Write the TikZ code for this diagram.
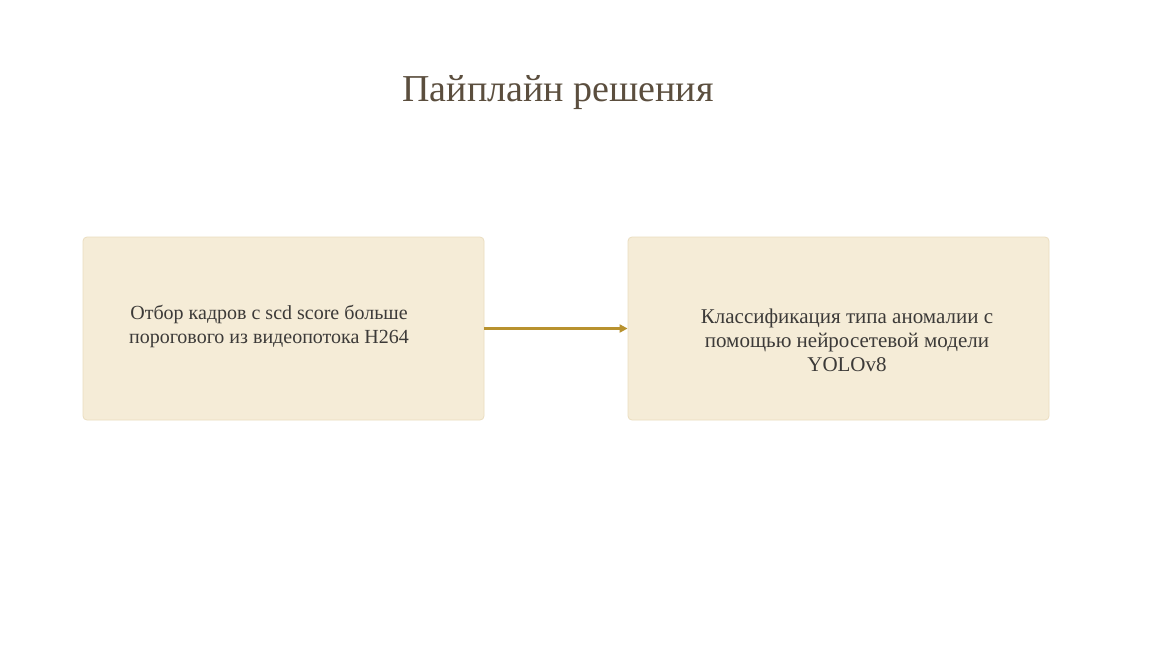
\documentclass[tikz,border=0pt]{standalone}
\usepackage{fontspec}
\setmainfont{Liberation Serif}
\usetikzlibrary{arrows.meta}
\definecolor{titlec}{HTML}{5B4E3E}
\definecolor{boxfill}{HTML}{F5ECD7}
\definecolor{boxline}{HTML}{EBDDC0}
\definecolor{arrowc}{HTML}{B8922E}
\definecolor{textc}{HTML}{3C3A38}
\tikzset{
  stagebox/.style={draw=boxline, fill=boxfill, line width=0.8pt, rounded corners=4pt, inner sep=0pt},
  stagetext/.style={text=textc, align=center, font=\fontsize{20}{24}\selectfont, inner sep=0pt},
  flowarrow/.style={draw=arrowc, line width=2.6pt, -{Triangle[length=8pt,width=8pt]}}
}
\begin{document}
\begin{tikzpicture}[x=1pt,y=-1pt]
\useasboundingbox (0,0) rectangle (1152,648);
\fill[white] (0,0) rectangle (1152,648);
\node[text=titlec, font=\fontsize{38}{44}\selectfont, anchor=base, inner sep=0pt] (title) at (558,101) {Пайплайн решения};
\node[stagebox, minimum width=401pt, minimum height=183pt] (b1) at (283.5,328.5) {};
\node[stagebox, minimum width=421pt, minimum height=183pt] (b2) at (838.5,328.5) {};
\node[stagetext] (t1) at (269,326) {Отбор кадров с scd score больше\\порогового из видеопотока H264};
\node[stagetext, font=\fontsize{21}{24}\selectfont] (t2) at (847,340) {Классификация типа аномалии с\\помощью нейросетевой модели\\YOLOv8};
\draw[flowarrow] (b1.east) -- (b2.west);
\end{tikzpicture}
\end{document}
